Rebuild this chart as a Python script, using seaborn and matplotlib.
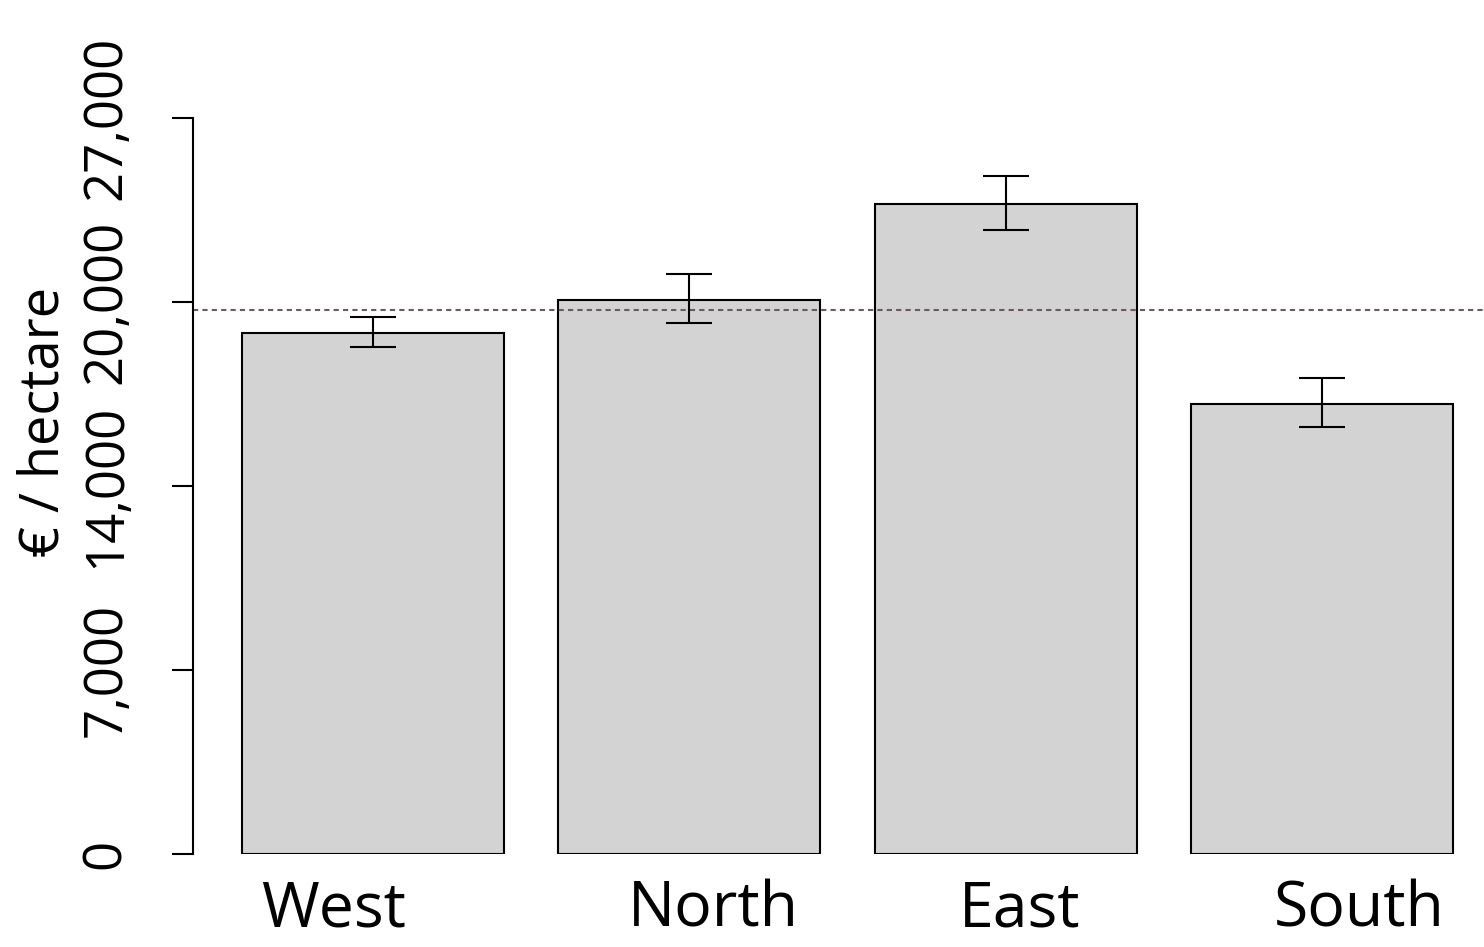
import matplotlib
matplotlib.use("Agg")
import matplotlib.pyplot as plt
import seaborn as sns
import numpy as np
import pandas as pd

regions = ["West", "North", "East", "South"]
values = [19110, 20320, 23850, 16510]
err_upper = [19700, 21280, 24870, 17460]
err_lower = [18600, 19480, 22890, 15660]
reference_line = 19960
tick_values = [0, 6750, 13500, 20250, 27000]
tick_labels = ["0", "7,000", "14,000", "20,000", "27,000"]
label_positions = [-0.126, 1.076, 2.044, 3.117]

sns.set_theme(style="white")
plt.rcParams["font.family"] = ["Open Sans", "DejaVu Sans"]
plt.rcParams["text.color"] = "black"
plt.rcParams["xtick.color"] = "black"
plt.rcParams["ytick.color"] = "black"

W, H = 1484, 947
fig = plt.figure(figsize=(W / 100, H / 100), dpi=100)
ax = fig.add_axes([193 / W, (H - 854) / H, (W - 193) / W, 736 / H])

df = pd.DataFrame({"region": regions, "value": values})
sns.barplot(data=df, x="region", y="value", color="#d3d3d3", saturation=1,
            edgecolor="black", linewidth=1.5, width=0.828, errorbar=None,
            ax=ax, zorder=2)

x = np.arange(len(regions))
lo = np.array(values) - np.array(err_lower)
hi = np.array(err_upper) - np.array(values)
ax.errorbar(x, values, yerr=[lo, hi], fmt="none", ecolor="black",
            elinewidth=1.5, capsize=16.5, capthick=1.5, zorder=4)

ax.axhline(reference_line, color="#6b5a60", linewidth=1.5,
           linestyle=(0, (2.5, 2.0)), zorder=3)

ax.set_xlim(-0.569, 3.512)
ax.set_ylim(0, 27000)
ax.set_yticks(tick_values)
ax.set_yticklabels(tick_labels, rotation=90, va="center", fontsize=38,
                   color="black")
ax.set_xticks(label_positions)
ax.set_xticklabels(regions, fontsize=45, color="black")
ax.tick_params(axis="x", length=0, pad=18)
ax.tick_params(axis="y", length=15, width=1.5, direction="out", pad=28,
               color="black", left=True)
ax.set_xlabel("")
ax.set_ylabel("")

for s in ["top", "right", "bottom"]:
    ax.spines[s].set_visible(False)
ax.spines["left"].set_color("black")
ax.spines["left"].set_linewidth(1.5)
ax.spines["left"].set_zorder(5)
ax.grid(False)
ax.patch.set_alpha(0)

fig.text(44 / W, 1 - 422 / H, "€ / hectare", rotation=90, ha="center",
         va="center", fontsize=39, color="black")

fig.savefig("out.png", dpi=100)
